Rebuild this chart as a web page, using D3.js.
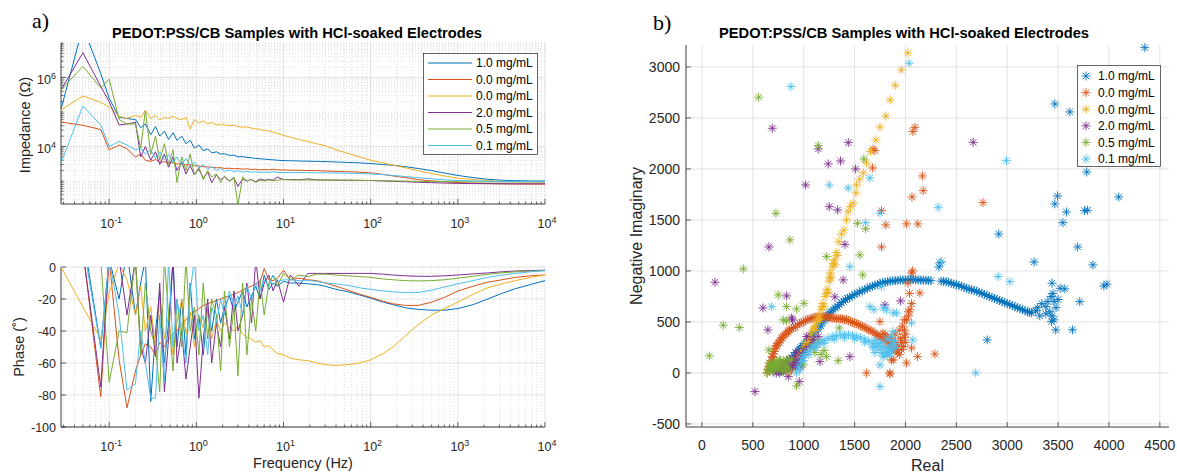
<!DOCTYPE html>
<html><head><meta charset="utf-8">
<script src="https://cdn.jsdelivr.net/npm/d3@7"></script>
<style>body{margin:0;background:#fff}</style>
</head><body>
<svg id="c" width="1177" height="474"></svg>
<script>
// ---------- DATA ----------
const seriesNames = ["1.0 mg/mL","0.0 mg/mL","0.0 mg/mL","2.0 mg/mL","0.5 mg/mL","0.1 mg/mL"];
const colors = ["#0072BD","#D95319","#EDB120","#7E2F8E","#77AC30","#4DBEEE"];
const titleText = "PEDOT:PSS/CB Samples with HCl-soaked Electrodes";

const freq = [0.028,0.05,0.08,0.1,0.13,0.16,0.2,0.23,0.26,0.3,
 0.34,0.38,0.43,0.48,0.54,0.6,0.68,0.76,0.85,0.95,
 1.07,1.2,1.35,1.5,1.7,1.9,2.1,2.4,2.7,3.0,
 3.4,3.8,4.3,4.8,5.4,6.0,6.8,7.6,8.5,10,
 12,15,19,24,30,40,55,75,100,140,
 180,250,350,500,700,1000,1500,2200,3200,4600,
 6800,10000];

const imp1 = [1.2e5,3e7,1.3e6,2.5e5,7e4,6.5e4,6e4,3.5e4,4.5e4,2.2e4,
 3.8e4,2e4,2.8e4,1.6e4,2.5e4,1.5e4,2e4,1.2e4,1.5e4,9e3,
 1.1e4,7.5e3,8.5e3,6.5e3,7e3,6e3,6.2e3,5.5e3,5.6e3,5e3,
 5.1e3,4.8e3,4.7e3,4.5e3,4.4e3,4.3e3,4.2e3,4.1e3,4.0e3,3.9e3,
 3.85e3,3.8e3,3.75e3,3.7e3,3.65e3,3.55e3,3.45e3,3.35e3,3.2e3,3.0e3,
 2.85e3,2.6e3,2.3e3,2.0e3,1.7e3,1.45e3,1.25e3,1.12e3,1.05e3,1.02e3,
 1.0e3,1.0e3];
const imp2 = [5.1e4,4.1e4,3.1e4,8e3,1.1e4,8.5e3,5e3,6e3,4e3,3.7e3,
 4.2e3,3.5e3,3.6e3,3.3e3,3.4e3,3.1e3,3.2e3,2.9e3,3e3,2.8e3,
 2.7e3,2.6e3,2.55e3,2.5e3,2.4e3,2.45e3,2.3e3,2.35e3,2.25e3,2.3e3,
 2.2e3,2.25e3,2.15e3,2.2e3,2.1e3,2.15e3,2.1e3,2.2e3,2.1e3,2.1e3,
 2.05e3,2.05e3,2.0e3,2.0e3,1.95e3,1.9e3,1.85e3,1.8e3,1.72e3,1.55e3,
 1.4e3,1.25e3,1.1e3,1.0e3,950,900,860,840,825,815,
 812,810];
const imp3 = [1.15e5,2.9e5,1.9e5,1.4e5,7.5e4,6.5e4,8e4,7e4,1.1e5,6.5e4,
 8e4,6e4,7e4,6.5e4,7.5e4,6.5e4,6e4,7e4,3.2e4,6e4,
 4.8e4,5.5e4,4.5e4,5e4,4.2e4,4.5e4,4.2e4,4e4,4.2e4,3.8e4,
 3.6e4,3.7e4,3.4e4,3.3e4,3.1e4,2.9e4,2.8e4,2.6e4,2.4e4,2.1e4,
 1.85e4,1.6e4,1.4e4,1.2e4,1.05e4,8e3,6.3e3,5e3,4e3,3.3e3,
 2.9e3,2.4e3,2e3,1.65e3,1.4e3,1.2e3,1.1e3,1.02e3,980,950,
 940,930];
const imp4 = [4.4e5,5.2e6,5.5e5,2e5,4.2e4,4.5e4,5e4,5e3,1e4,4e3,
 7e3,3e3,6e3,2.5e3,5e3,2e3,3.5e3,1.6e3,2.8e3,1.5e3,
 2.2e3,1.2e3,1.8e3,900,1.5e3,1.1e3,1.3e3,1e3,1.2e3,700,
 1.15e3,1e3,1.1e3,950,1.15e3,1.05e3,1.1e3,1.05e3,1.3e3,1.1e3,
 1.1e3,1.08e3,1.15e3,1.08e3,1.07e3,1.06e3,1.05e3,1.04e3,1.03e3,1.0e3,
 980,950,920,890,870,850,840,835,830,830,
 830,830];
const imp5 = [4.4e5,2.1e6,5e5,9e5,6e4,4.5e4,4.5e4,9e3,1.1e5,6e3,
 2e4,4e3,1.2e4,3e3,8e3,900,5e3,2e3,6e3,1.5e3,
 2.5e3,1.1e3,2e3,1.3e3,1.6e3,900,1.4e3,1e3,1.3e3,200,
 1.3e3,1e3,1.1e3,900,1.05e3,1e3,1.08e3,1.02e3,1.06e3,1.1e3,
 1.07e3,1.07e3,1.07e3,1.06e3,1.06e3,1.05e3,1.05e3,1.04e3,1.03e3,1.02e3,
 1.0e3,990,975,965,955,950,945,940,940,940,
 940,940];
const imp6 = [3.3e3,1.5e5,4.2e4,1e4,1.4e4,1.1e4,8e3,9e3,6e3,8e3,
 4.5e3,7e3,4e3,6e3,3.5e3,5e3,3e3,4.5e3,2.8e3,3.5e3,
 2.4e3,3e3,2.2e3,2.6e3,2e3,2.3e3,1.9e3,2.1e3,1.85e3,2e3,
 1.8e3,1.9e3,1.8e3,1.85e3,1.78e3,1.8e3,1.77e3,1.85e3,1.77e3,1.76e3,
 1.75e3,1.75e3,1.74e3,1.73e3,1.72e3,1.7e3,1.68e3,1.65e3,1.6e3,1.52e3,
 1.45e3,1.35e3,1.25e3,1.15e3,1.08e3,1.03e3,1e3,985,975,970,
 965,960];

const phase1 = [30,20,-50,5,-20,10,-30,-10,5,-84,
 -40,-15,-60,-35,5,-50,-20,-55,-10,-45,
 -30,-55,-25,-40,-20,-35,-25,-18,-28,-22,
 -15,-25,-18,-12,-20,-5,-14,-10,-12,-9,
 -10,-10,-10.5,-11,-12,-14,-15.5,-17.5,-19.5,-22,
 -23.5,-25.5,-26.5,-27,-27,-26,-23.5,-20,-16.5,-13.5,
 -11,-8.5];
const phase2 = [20,10,-81,5,-58,-88,-65,-55,-48,-50,
 -55,-47,-50,-45,-42,-40,-36,-33,-30,-28,
 -26,-24,-23,-22,-21,-20,-19,-18,-17,-16,
 -14.5,-13,-12,-10.5,-9,-1,-8,-8.5,-7,-2,
 -8,-7,-8,-8.5,-10,-12,-14.5,-17,-19,-21.5,
 -23,-24,-24,-22,-19,-15,-12,-9.5,-8,-6.5,
 -5.5,-5];
const phase3 = [0,-25,-45,-16,2,-8,-30,-12,-40,-25,
 -50,-20,-45,-30,-55,-35,-20,-42,-28,-50,
 -30,-38,-25,-45,-33,-40,-35,-38,-40,-37,
 -42,-44,-45,-47,-46,-50,-49,-52,-54,-55,
 -57,-58,-58.5,-60,-61,-61.5,-61,-60,-58,-54,
 -50,-43,-36,-30,-26,-22,-17,-13,-10.5,-8.5,
 -6.5,-5];
const phase4 = [30,10,-75,10,5,-30,5,-50,-60,-30,
 -56,-10,-78,-45,5,-60,-40,-70,-50,-30,
 -82,-45,-20,-60,-35,-50,-25,-45,-15,-40,
 -30,-10,-35,5,-20,-10,-5,-15,-8,-22,
 -5,-12,-4,-4,-4,-4,-4,-4,-4,-4.5,
 -5,-5.5,-5.8,-5.8,-5.5,-5,-4.3,-3.7,-3,-2.5,
 -2.2,-2];
const phase5 = [30,10,5,-72,-40,-41,5,-55,-10,-40,
 -50,-78,5,-30,-65,-20,-50,5,-40,-25,
 -55,-10,-45,-20,-30,-65,-15,-50,-25,-68,
 -10,-55,-20,-40,-8,-30,-10,-5,-12,-4,
 -8,-5,-6,-4.5,-4.5,-5,-5.5,-6,-6.5,-7.5,
 -8,-8.5,-8.7,-8.5,-8,-7,-5.8,-4.6,-3.6,-3,
 -2.6,-2.3];
const phase6 = [30,15,-51,5,-30,-77,-73,-40,-60,-82,
 -82,-30,-72,5,-50,-20,-40,-60,-15,5,
 -40,-30,-55,-25,-35,-20,-30,-15,-25,-18,
 -30,-12,-20,-10,-15,-8,-12,-5,-9,-8,
 -8,-8.5,-8.5,-9,-10,-10.5,-11.5,-13,-14,-15,
 -15.5,-16,-16,-14.5,-12.5,-10.5,-8.5,-6.5,-5,-4,
 -3,-2.3];

// Nyquist: [Real, Negative Imaginary]
const nyq1 = [[780,20],[800,60],[820,40],[840,90],[860,120],[880,150],[900,170],[920,200],[940,215],[960,230],[985,260],[1010,290],[1040,330],[1070,370],[1100,400],[1130,450],[1160,480],[1190,520],[1220,560],[1250,590],[1290,620],[1330,650],[1370,690],[1410,720],[1450,740],[1500,770],[1550,795],[1600,815],[1650,840],[1700,860],[1750,880],[1800,890],[1850,900],[1900,905],[1950,910],[2000,912],[2050,915],[2100,915],[2150,910],[2200,908],[2250,905],[2350,900],[2400,895],[2450,880],[2500,865],[2550,850],[2600,830],[2650,815],[2700,800],[2750,780],[2800,760],[2850,740],[2900,720],[2950,700],[3000,680],[3050,660],[3100,640],[3150,620],[3200,600],[3240,590],[3280,610],[3300,640],[3340,680],[3380,650],[3420,600],[3440,560],[3460,520],[3400,700],[3430,750],[3460,700],[3480,640],[3500,720],[3380,580],[3320,560],[3435,503],[3477,422],[3440,880],[3450,780],[3520,830],
 [830,60],[870,100],[910,150],[950,190],[990,240],[1030,290],[1080,350],[1120,410],[1170,460],[1240,540],
 [760,0],[790,30],[810,80],[850,60],[870,130],[890,110],[930,170],[970,250],[1000,270],[1060,320],[1090,380],[1140,430],[1200,510],[1270,600],[1310,640],[1350,670],[1390,700],[1430,730],[1475,755],[1525,780],[1575,805],[1625,830],[1675,850],[1725,870],[1775,885],[1825,895],[1875,902],[1925,908],[1975,911],[2025,914],[2075,916],[2125,912],[2175,909],[2225,906],[2375,898],[2425,888],[2475,872],[2525,858],[2575,840],[2625,822],[2675,808],[2725,790],[2775,770],[2825,750],[2875,730],[2925,710],[2975,690],[3025,670],[3075,650],[3125,630],[3175,610],[3220,595],
 [3265,1088],[3693,1235],[3842,1059],[3950,853],[3980,870],[3566,824],[3713,699],[3641,422],[2803,324],[2328,1039],[2340,1080],[4352,3189],[3468,2637],[3615,2559],[3782,1970],[3494,1735],[3468,1657],[3582,1578],[3547,1473],[3760,1591],[3790,1595],[4096,1725],[2917,1362]];
const nyq2 = [[640,0],[660,60],[680,120],[700,190],[720,240],[745,290],[770,320],[800,360],[830,390],[860,420],[900,445],[940,470],[980,495],[1020,515],[1060,530],[1100,545],[1140,550],[1180,552],[1220,548],[1260,542],[1300,538],[1340,532],[1380,530],[1420,525],[1460,505],[1500,490],[1540,475],[1580,455],[1620,435],[1660,415],[1700,390],[1740,360],[1780,330],[1820,300],[1850,270],[1880,240],[1900,220],[1920,200],[1940,180],[1960,230],[1980,260],[1900,300],[1860,340],[1800,380],[1950,340],[2000,300],[1990,420],[2010,520],[2030,560],[2045,620],[2060,680],[2040,780],[2025,880],[2060,980],[2070,1000],
 [700,150],[730,260],[760,300],[790,340],[850,400],[920,450],[1000,500],[1080,535],[1160,545],[1240,545],[1320,530],[1400,520],[1480,495],[1560,460],[1640,420],[1720,370],[1760,345],[1800,320],[1840,290],[1870,250],[1910,230],[1930,260],[1870,300],[1820,350],[1780,390],[1900,380],[1960,300],[1990,350],[2000,380],[1940,420],[1970,460],[2030,600],[1990,520],
 [650,30],[670,90],[690,160],[710,210],[735,270],[780,345],[815,375],[845,410],[880,435],[960,485],[1040,525],[1120,548],[1200,550],[1280,540],[1360,531],[1440,515],[1520,483],[1600,445],[1680,403],[1725,375],
 [2289,186],[2119,160],[2060,245],[2011,98],[1847,0],[1863,127],[2142,784],[1618,0],[1847,-10],[1880,127],[1749,503],[1765,1235],[2093,2408],[2073,2366],[2168,1931],[2174,1787],[2064,1725],[2011,1461],[2122,1461],[1807,1451],[1765,1591],[2761,1670],[1683,2196],[1700,2180],[1677,2010]];
const nyq3 = [[850,0],[870,30],[890,60],[910,90],[930,120],[950,150],[970,180],[990,220],[1010,260],[1030,300],[1050,340],[1070,380],[1090,420],[1110,460],[1130,500],[1150,560],[1170,620],[1190,680],[1210,750],[1230,820],[1250,900],[1265,980],[1280,1040],[1300,1110],[1320,1180],[1346,1287],[1370,1360],[1396,1402],[1421,1500],[1436,1580],[1460,1630],[1486,1666],[1513,1764],[1520,1843],[1550,1900],[1585,1960],[1618,2059],[1657,2170],[1709,2284],[1749,2410],[1807,2520],[1850,2676],[1900,2820],[1960,2970],[2024,3137],
 [1000,200],[1040,260],[1080,330],[1120,420],[1160,520],[1200,650],[1240,790],[1270,930],[1310,1060],[1330,1150],[880,20],[900,50],[920,80],[960,130],[1060,310],
 [1020,280],[1100,440],[1140,530],[1180,650],[1220,780],[1255,940],[1290,1075],[940,100],[980,170]];
const nyq4 = [[700,13],[720,30],[740,50],[760,70],[783,49],[800,80],[820,100],[840,120],[864,62],[880,90],[900,110],[920,60],[940,80],[960,100],[980,150],[1000,200],[1020,240],[930,196],[1028,356],[1093,324],[710,60],[750,20],[800,20],[850,30],
 [730,0],[770,20],[790,100],[810,40],[830,70],[850,90],[870,130],[890,60],[910,140],[950,120],[970,60],[990,180],[1060,260],[1100,300],
 [128,889],[648,422],[599,637],[832,755],[881,539],[890,520],[1388,912],[1306,745],[1454,160],[1798,667],[1159,111],[1143,356],[848,-36],[956,-85],[521,-183],[658,1235],[1405,1260],[691,2399],[1438,2258],[1143,2196],[1241,2049],[1362,2078],[1510,2000],[1019,1843],[1251,1630],[1333,1598],[2666,2261],[1952,706]];
const nyq5 = [[640,0],[660,20],[680,40],[700,10],[720,60],[740,30],[760,80],[780,50],[800,100],[820,20],[840,60],[860,120],[700,90],[760,130],
 [650,40],[670,70],[690,60],[710,100],[730,110],[750,50],[770,120],[790,20],[810,80],[830,130],[850,40],[880,140],[660,100],
 [72,167],[209,468],[367,445],[406,1020],[658,225],[750,765],[832,650],[930,627],[1002,683],[799,520],[830,510],[995,78],[930,-127],[1100,250],[1150,300],[1200,220],[1110,200],[1170,180],[1225,160],[1339,120],[1349,441],[1552,1157],[1579,961],[1225,1140],[864,1304],[557,2703],[1143,2228],[1591,2098],[727,1565],[1529,1467],[1608,1414]];
const nyq6 = [[930,0],[950,60],[970,110],[990,150],[1010,180],[1040,210],[1070,240],[1100,265],[1130,285],[1160,300],[1200,320],[1240,340],[1280,355],[1320,365],[1360,372],[1400,375],[1440,373],[1480,365],[1520,355],[1560,345],[1600,330],[1640,310],[1680,285],[1710,260],[1740,230],[1770,200],[1790,180],[1810,200],[1830,240],[1860,280],[1880,320],[1850,190],[1780,160],[1900,250],[1700,200],[1760,260],[960,30],[1000,120],[1050,180],[1120,250],[1200,290],[1300,330],[1400,345],[1500,335],[1600,300],[1680,250],
 [1820,170],[1840,210],[1870,230],[1890,290],[1800,250],[1760,300],[1730,290],[1700,320],[1820,330],[1860,360],
 [1454,1042],[685,650],[1749,78],[1749,-134],[1650,650],[1690,620],[1781,637],[1880,588],[2911,945],[3026,895],[2354,1092],[2691,0],[1913,588],[1814,617],[1765,846],[2073,324],[2060,490],[1880,405],[2037,3037],[2993,2081],[2321,1624],[1749,1568],[874,2807],[1251,1843],[1436,1813],[1650,1911],[1608,1473]];

const freqTickExps = [-1,0,1,2,3,4];
const impTickExps = [4,6];
const phaseTicks = [0,-20,-40,-60,-80,-100];
const realTicks = [0,500,1000,1500,2000,2500,3000,3500,4000,4500];
const imagTicks = [-500,0,500,1000,1500,2000,2500,3000];

// ---------- DRAW ----------
const impSeries = [imp1,imp2,imp3,imp4,imp5,imp6];
const phaseSeries = [phase1,phase2,phase3,phase4,phase5,phase6];
const nyqSeries = [nyq1,nyq2,nyq3,nyq4,nyq5,nyq6];

const FONT = '"Liberation Sans", Arial, Helvetica, sans-serif';
const AX = '#262626', GRID = '#dcdcdc', MINOR = '#c8c8c8';
const svg = d3.select('#c').style('font-family', FONT);
const defs = svg.append('defs');
function clip(id, x, y, w, h){ defs.append('clipPath').attr('id', id).append('rect').attr('x',x).attr('y',y).attr('width',w).attr('height',h); }

const L = {x0:61, x1:545};
const T = {y0:43, y1:204};
const B = {y0:267, y1:427};
const xF = d3.scaleLog().domain([0.028, 1e4]).range([L.x0, L.x1]);
const yZ = d3.scaleLog().domain([215, 1e7]).range([T.y1, T.y0]);
const yP = d3.scaleLinear().domain([-100, 0]).range([B.y1, B.y0]);

function logVals(lo, hi){
  const out=[];
  for(let e=Math.floor(Math.log10(lo)); e<=Math.ceil(Math.log10(hi)); e++)
    for(let k=1;k<10;k++){ const v=k*Math.pow(10,e); if(v>=lo*0.9999 && v<=hi*1.0001) out.push({v:v,k:k,e:e}); }
  return out;
}
const fVals = logVals(0.028, 1e4);
const zVals = logVals(215, 1e7);

function supText(g, x, y, exp, anchor, size){
  const t = g.append('text').attr('x',x).attr('y',y).attr('text-anchor',anchor)
    .attr('font-size',size).attr('fill',AX);
  t.append('tspan').text('10');
  t.append('tspan').attr('dy',-size*0.42).attr('font-size',size*0.72).text(exp);
  return t;
}

function freqPanel(y0, y1, drawY){
  const g = svg.append('g');
  fVals.forEach(d=>{
    const x = xF(d.v);
    g.append('line').attr('x1',x).attr('x2',x).attr('y1',y0).attr('y2',y1)
      .attr('stroke', d.k===1?GRID:MINOR).attr('stroke-width', d.k===1?0.8:0.6)
      .attr('stroke-dasharray', d.k===1?null:'1,2');
  });
  drawY(g);
  g.append('line').attr('x1',L.x0).attr('x2',L.x0).attr('y1',y0).attr('y2',y1).attr('stroke',AX).attr('stroke-width',0.9);
  g.append('line').attr('x1',L.x0).attr('x2',L.x1).attr('y1',y1).attr('y2',y1).attr('stroke',AX).attr('stroke-width',0.9);
  fVals.forEach(d=>{
    const x = xF(d.v), len = d.k===1?5:2.5;
    g.append('line').attr('x1',x).attr('x2',x).attr('y1',y1).attr('y2',y1-len).attr('stroke',AX).attr('stroke-width',0.7);
  });
  freqTickExps.forEach(e=>{ supText(g, xF(Math.pow(10,e))+2, y1+24, String(e), 'middle', 12.5); });
  return g;
}

// top: impedance
const gT = freqPanel(T.y0, T.y1, g=>{
  zVals.forEach(d=>{
    const y = yZ(d.v); const major = d.k===1 && impTickExps.includes(d.e);
    g.append('line').attr('x1',L.x0).attr('x2',L.x1).attr('y1',y).attr('y2',y)
      .attr('stroke', major?GRID:MINOR).attr('stroke-width', major?0.8:0.6)
      .attr('stroke-dasharray', major?null:'1,2');
  });
});
zVals.forEach(d=>{
  const y = yZ(d.v); const major = d.k===1 && impTickExps.includes(d.e);
  gT.append('line').attr('x1',L.x0).attr('x2',L.x0+(major?5:2.5)).attr('y1',y).attr('y2',y).attr('stroke',AX).attr('stroke-width',0.7);
});
impTickExps.forEach(e=>{ supText(gT, 56, yZ(Math.pow(10,e))+7, String(e), 'end', 12.5); });
clip('cpT', L.x0, T.y0, L.x1-L.x0, T.y1-T.y0);
const lineZ = d3.line().x((d,i)=>xF(freq[i])).y(d=>yZ(d));
const gTL = svg.append('g').attr('clip-path','url(#cpT)');
impSeries.forEach((s,i)=>{
  gTL.append('path').attr('d', lineZ(s)).attr('fill','none').attr('stroke',colors[i]).attr('stroke-width',1);
});

// bottom: phase
const gB = freqPanel(B.y0, B.y1, g=>{
  phaseTicks.forEach(v=>{
    g.append('line').attr('x1',L.x0).attr('x2',L.x1).attr('y1',yP(v)).attr('y2',yP(v)).attr('stroke',GRID).attr('stroke-width',0.8);
  });
});
phaseTicks.forEach(v=>{
  gB.append('line').attr('x1',L.x0).attr('x2',L.x0+5).attr('y1',yP(v)).attr('y2',yP(v)).attr('stroke',AX).attr('stroke-width',0.7);
  gB.append('text').attr('x',56).attr('y',yP(v)+4.5).attr('text-anchor','end').attr('font-size',12.5).attr('fill',AX).text(String(v));
});
clip('cpB', L.x0, B.y0, L.x1-L.x0, B.y1-B.y0);
const lineP = d3.line().x((d,i)=>xF(freq[i])).y(d=>yP(d));
const gBL = svg.append('g').attr('clip-path','url(#cpB)');
phaseSeries.forEach((s,i)=>{
  gBL.append('path').attr('d', lineP(s)).attr('fill','none').attr('stroke',colors[i]).attr('stroke-width',1);
});

// left legend
const lg = svg.append('g');
lg.append('rect').attr('x',423.5).attr('y',53.5).attr('width',114).attr('height',101).attr('fill','#fff').attr('stroke',AX).attr('stroke-width',0.7);
seriesNames.forEach((n,i)=>{
  const y = 63 + i*16.5;
  lg.append('line').attr('x1',428).attr('x2',472).attr('y1',y).attr('y2',y).attr('stroke',colors[i]).attr('stroke-width',1);
  lg.append('text').attr('x',476).attr('y',y+4.3).attr('font-size',12).attr('fill','#000').text(n);
});

// left texts
svg.append('text').attr('x',112).attr('y',37.5).attr('font-size',14).attr('font-weight','bold').attr('textLength',370).attr('lengthAdjust','spacingAndGlyphs').attr('fill','#000').text(titleText);
svg.append('text').attr('transform','translate(29.5,125) rotate(-90)').attr('text-anchor','middle').attr('font-size',14.5).attr('fill',AX).text('Impedance (\u03A9)');
svg.append('text').attr('transform','translate(23.5,347) rotate(-90)').attr('text-anchor','middle').attr('font-size',14.5).attr('fill',AX).text('Phase (\u02DA)');
svg.append('text').attr('x',303).attr('y',467.5).attr('text-anchor','middle').attr('font-size',14.5).attr('fill',AX).text('Frequency (Hz)');
svg.append('text').attr('x',32).attr('y',27.5).attr('font-family','"Liberation Serif", "Times New Roman", serif').attr('font-size',22).attr('fill','#000').text('a)');
svg.append('text').attr('x',653).attr('y',30).attr('font-family','"Liberation Serif", "Times New Roman", serif').attr('font-size',22).attr('fill','#000').text('b)');

// ---------- Right: Nyquist ----------
const R = {x0:686, x1:1169, y0:45, y1:427};
const xR = d3.scaleLinear().domain([-157, 4590]).range([R.x0, R.x1]);
const yI = d3.scaleLinear().domain([-530, 3215]).range([R.y1, R.y0]);
const gR = svg.append('g');
realTicks.forEach(v=>{
  gR.append('line').attr('x1',xR(v)).attr('x2',xR(v)).attr('y1',R.y0).attr('y2',R.y1).attr('stroke',GRID).attr('stroke-width',0.8);
});
imagTicks.forEach(v=>{
  gR.append('line').attr('x1',R.x0).attr('x2',R.x1).attr('y1',yI(v)).attr('y2',yI(v)).attr('stroke',GRID).attr('stroke-width',0.8);
});
gR.append('line').attr('x1',R.x0).attr('x2',R.x0).attr('y1',R.y0).attr('y2',R.y1).attr('stroke',AX).attr('stroke-width',0.9);
gR.append('line').attr('x1',R.x0).attr('x2',R.x1).attr('y1',R.y1).attr('y2',R.y1).attr('stroke',AX).attr('stroke-width',0.9);
realTicks.forEach(v=>{
  gR.append('line').attr('x1',xR(v)).attr('x2',xR(v)).attr('y1',R.y1).attr('y2',R.y1-5).attr('stroke',AX).attr('stroke-width',0.7);
  gR.append('text').attr('x',xR(v)).attr('y',R.y1+22.5).attr('text-anchor','middle').attr('font-size',14).attr('fill',AX).text(String(v));
});
imagTicks.forEach(v=>{
  gR.append('line').attr('x1',R.x0).attr('x2',R.x0+5).attr('y1',yI(v)).attr('y2',yI(v)).attr('stroke',AX).attr('stroke-width',0.7);
  gR.append('text').attr('x',680).attr('y',yI(v)+5).attr('text-anchor','end').attr('font-size',14).attr('fill',AX).text(String(v));
});
function star(r){ const d=r*0.72; return `M${-r},0L${r},0M0,${-r}L0,${r}M${-d},${-d}L${d},${d}M${-d},${d}L${d},${-d}`; }
const starPath = star(4.5);
const gM = svg.append('g');
nyqSeries.forEach((s,i)=>{
  gM.selectAll(null).data(s).enter().append('path')
    .attr('transform', d=>`translate(${xR(d[0])},${yI(d[1])})`)
    .attr('d', starPath).attr('fill','none').attr('stroke',colors[i]).attr('stroke-width',0.9);
});
// right legend
const rg = svg.append('g');
rg.append('rect').attr('x',1077.5).attr('y',65.5).attr('width',83).attr('height',101).attr('fill','#fff').attr('stroke',AX).attr('stroke-width',0.7);
seriesNames.forEach((n,i)=>{
  const y = 76 + i*16.6;
  rg.append('path').attr('transform',`translate(1086,${y})`).attr('d',starPath).attr('fill','none').attr('stroke',colors[i]).attr('stroke-width',0.9);
  rg.append('text').attr('x',1098).attr('y',y+4.3).attr('font-size',12).attr('fill','#000').text(n);
});
svg.append('text').attr('x',719).attr('y',37.5).attr('font-size',14).attr('font-weight','bold').attr('textLength',370).attr('lengthAdjust','spacingAndGlyphs').attr('fill','#000').text(titleText);
svg.append('text').attr('x',927.5).attr('y',471).attr('text-anchor','middle').attr('font-size',16).attr('fill',AX).text('Real');
svg.append('text').attr('transform','translate(642,236) rotate(-90)').attr('text-anchor','middle').attr('font-size',16).attr('fill',AX).text('Negative Imaginary');
</script>
</body></html>
